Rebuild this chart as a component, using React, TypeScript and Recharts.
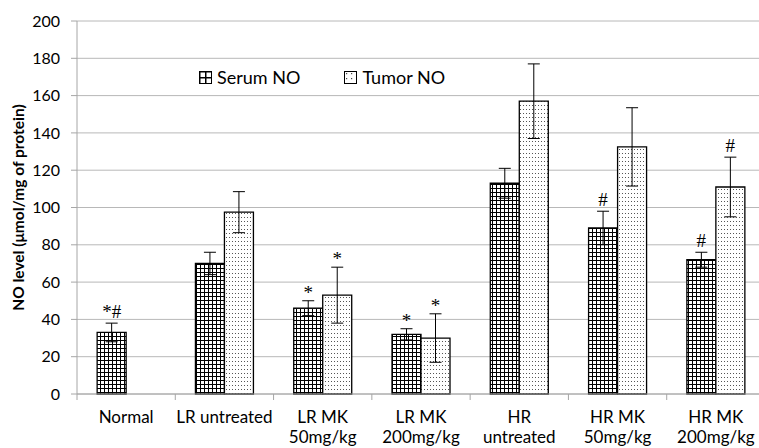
import React from 'react';
import { BarChart, Bar, XAxis, YAxis, CartesianGrid, ErrorBar, LabelList, Legend } from 'recharts';

const categories = ['Normal', 'LR untreated', 'LR MK\n50mg/kg', 'LR MK\n200mg/kg', 'HR\nuntreated', 'HR MK\n50mg/kg', 'HR MK\n200mg/kg'];
const serum = [33, 70, 46, 32, 113, 89, 72];
const serumErr = [5, 6, 4, 3, 8, 9, 4];
const tumor = [null, 97.5, 53, 30, 157, 132.5, 111];
const tumorErr = [null, 11, 15, 13, 20, 21, 16];
const serumMark = ['*#', '', '*', '*', '', '#', '#'];
const tumorMark = ['', '', '*', '*', '', '', '#'];
const yTicks = [0, 20, 40, 60, 80, 100, 120, 140, 160, 180, 200];

const rows = categories.map((c, i) => ({
  name: c,
  serum: serum[i],
  serumErr: serumErr[i],
  tumor: tumor[i],
  tumorErr: tumorErr[i],
  serumMark: serumMark[i],
  tumorMark: tumorMark[i],
}));

const CHART_W = 770;
const CHART_H = 448;
const Y_W = 77;
const M_R = 5;
const BAND = (CHART_W - Y_W - M_R) / categories.length;
const FONT = 'Lato, "Noto Sans", sans-serif';
const MARK_FONT = '"Liberation Serif", "DejaVu Serif", serif';
const AXIS = '#a6a6a6';
const GRID = '#b8b8b8';

const XTick = (props: any) => {
  const { x, y, payload } = props;
  const lines = String(payload.value).split('\n');
  return (
    <g>
      <line x1={x - BAND / 2} x2={x - BAND / 2} y1={y} y2={y + 6} stroke={AXIS} strokeWidth={1} />
      <text x={x} y={y} textAnchor="middle" fontFamily={FONT} fontSize={17} fill="#000">
        {lines.map((l, i) => (
          <tspan key={i} x={x} dy={i === 0 ? 29 : 20}>{l}</tspan>
        ))}
      </text>
    </g>
  );
};

const makeMark = (valKey: string, errKey: string, markKey: string) => (props: any) => {
  const { x, y, width, height, value } = props;
  const row: any = rows.find((r) => r.name === value);
  if (!row) return null;
  const mark: string = row[markKey];
  const v = row[valKey];
  if (!mark || v == null || !height) return null;
  const errPx = (row[errKey] * height) / v;
  const gap = mark.includes('#') ? 5 : 2;
  return (
    <text x={x + width / 2} y={y - errPx - gap} textAnchor="middle" fontFamily={MARK_FONT} fontSize={19} fill="#000">
      {mark}
    </text>
  );
};

const Swatch = ({ fill }: { fill: string }) => (
  <svg width={13} height={13} style={{ marginRight: 5 }}>
    <rect x={0.5} y={0.5} width={12} height={12} fill={fill} stroke="#000" strokeWidth={1} />
  </svg>
);

const LegendContent = () => (
  <div style={{ display: 'flex', fontFamily: FONT, fontSize: 18, color: '#000', whiteSpace: 'nowrap', lineHeight: '20px' }}>
    <span style={{ marginRight: 44, display: 'flex', alignItems: 'center' }}><Swatch fill="url(#hatchL)" />Serum NO</span>
    <span style={{ display: 'flex', alignItems: 'center' }}><Swatch fill="url(#dotsL)" />Tumor NO</span>
  </div>
);

export default function App() {
  return (
    <div style={{ position: 'absolute', left: 0, top: 0, width: 759, height: 448, overflow: 'hidden', background: '#fff' }}>
      <svg width={0} height={0} style={{ position: 'absolute' }}>
        <defs>
          <pattern id="hatch" patternUnits="userSpaceOnUse" width={4} height={4}>
            <rect width={4} height={4} fill="#000" />
            <rect x={1} y={1} width={3} height={3} fill="#fff" />
          </pattern>
          <pattern id="hatchL" patternUnits="userSpaceOnUse" width={6} height={6}>
            <rect width={6} height={6} fill="#000" />
            <rect x={1.5} y={1.5} width={4.5} height={4.5} fill="#fff" />
          </pattern>
          <pattern id="dots" patternUnits="userSpaceOnUse" width={3} height={4}>
            <rect width={3} height={4} fill="#fff" />
            <rect x={1} y={1} width={1} height={1} fill="#555" />
          </pattern>
          <pattern id="dotsL" patternUnits="userSpaceOnUse" width={5} height={5}>
            <rect width={5} height={5} fill="#fff" />
            <rect x={2} y={2} width={1.2} height={1.2} fill="#444" />
          </pattern>
        </defs>
      </svg>
      <BarChart
        width={CHART_W}
        height={CHART_H}
        data={rows}
        margin={{ top: 21, right: M_R, bottom: 0, left: 0 }}
        barCategoryGap="20.5%"
        barGap={0}
      >
        <CartesianGrid vertical={false} stroke={GRID} strokeWidth={1} />
        <XAxis
          dataKey="name"
          height={54}
          interval={0}
          tickLine={false}
          tickSize={0}
          tickMargin={0}
          axisLine={{ stroke: AXIS }}
          tick={<XTick />}
        />
        <YAxis
          width={Y_W}
          domain={[0, 200]}
          ticks={yTicks}
          interval={0}
          tickSize={6}
          tickMargin={11}
          tickLine={{ stroke: AXIS }}
          axisLine={{ stroke: AXIS }}
          tick={{ fontFamily: FONT, fontSize: 16, fill: '#000' }}
          label={{
            value: 'NO level (μmol/mg of protein)',
            angle: -90,
            position: 'insideLeft',
            offset: 18,
            style: { textAnchor: 'middle', fontFamily: FONT, fontSize: 15.5, fontWeight: 700, fill: '#000' },
          }}
        />
        <Legend
          layout="horizontal"
          verticalAlign="middle"
          align="center"
          content={<LegendContent />}
          wrapperStyle={{ position: 'absolute', left: 199, top: 67, width: 'auto', height: 'auto' }}
        />
        <Bar dataKey="serum" name="Serum NO" fill="url(#hatch)" stroke="#000" strokeWidth={1.3} isAnimationActive={false}>
          <ErrorBar dataKey="serumErr" width={6} stroke="#000" strokeWidth={1} />
          <LabelList dataKey="name" content={makeMark('serum', 'serumErr', 'serumMark')} />
        </Bar>
        <Bar dataKey="tumor" name="Tumor NO" fill="url(#dots)" stroke="#000" strokeWidth={1.3} isAnimationActive={false}>
          <ErrorBar dataKey="tumorErr" width={6} stroke="#000" strokeWidth={1} />
          <LabelList dataKey="name" content={makeMark('tumor', 'tumorErr', 'tumorMark')} />
        </Bar>
      </BarChart>
    </div>
  );
}
